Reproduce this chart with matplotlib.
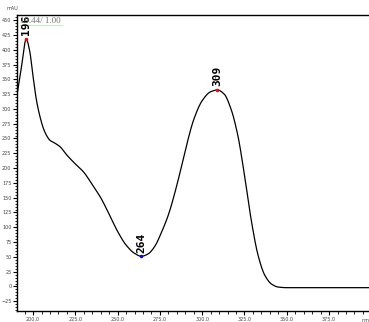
import matplotlib
matplotlib.use('Agg')
import matplotlib.pyplot as plt
from matplotlib.ticker import MultipleLocator, FuncFormatter
import numpy as np
from scipy.interpolate import PchipInterpolator

# 光谱数据 (nm, mAU)
wavelength = [190.5, 193, 196, 198, 200, 202, 204, 206, 208, 210, 213, 216, 220, 225, 230,
              235, 240, 245, 250, 255, 260, 264, 268, 272, 276, 280, 285, 290, 295,
              300, 305, 309, 313, 317, 321, 325, 329, 333, 337, 341, 345, 350, 360,
              380, 400]
absorb = [323, 368, 418, 398, 355, 315, 288, 268, 255, 247, 242, 236, 222, 207, 193,
          172, 150, 122, 93, 70, 56, 51, 55, 68, 92, 121, 171, 230, 282,
          314, 329, 332, 325, 300, 256, 188, 112, 53, 19, 4, -1, -2, -2,
          -2, -2]

peak_x = [196, 264, 309]
peak_y = [418, 51, 332]
peak_labels = ['196', '264', '309']
peak_colors = ['red', 'blue', 'red']

x_ticks = [200, 225, 250, 275, 300, 325, 350, 375]
y_ticks = [-25, 0, 25, 50, 75, 100, 125, 150, 175, 200, 225, 250, 275, 300,
           325, 350, 375, 400, 425, 450]

fig = plt.figure(figsize=(3.69, 3.22), dpi=100)
ax = fig.add_axes([0.046, 0.034, 0.954, 0.919])

# 平滑曲线
xs = np.linspace(wavelength[0], wavelength[-1], 1000)
ys = PchipInterpolator(wavelength, absorb)(xs)
ax.plot(xs, ys, color='black', lw=0.9)

for px, py, lab, c in zip(peak_x, peak_y, peak_labels, peak_colors):
    ax.plot(px, py, marker='o', ms=1.5, color=c, mec=c)
    ax.text(px, py + 6, lab, rotation=90, ha='center', va='bottom',
            fontsize=8, fontweight='bold', family='DejaVu Sans Mono')

ax.set_xlim(190.5, 398.6)
ax.set_ylim(-41.5, 458.4)

ax.set_xticks(x_ticks)
ax.set_yticks(y_ticks)
ax.xaxis.set_minor_locator(MultipleLocator(5))
ax.yaxis.set_minor_locator(MultipleLocator(5))
ax.xaxis.set_major_formatter(FuncFormatter(lambda v, p: f'{v:.1f}'))
ax.tick_params(axis='both', which='major', direction='out', length=3, width=0.8,
               labelsize=3.5, labelcolor='#444444', pad=1)
ax.tick_params(axis='both', which='minor', direction='out', length=1.8, width=0.6)

ax.spines['right'].set_visible(False)
for s in ['top', 'left', 'bottom']:
    ax.spines[s].set_linewidth(1.0)

fig.text(0.033, 0.965, 'mAU', fontsize=3.5, color='#444444', ha='center', va='bottom')
ax.text(1.0, -0.022, 'nm', transform=ax.transAxes, fontsize=3.5, color='#444444',
        ha='right', va='top')

ax.plot([0.008, 0.128], [0.967, 0.967], transform=ax.transAxes, color='#b8f0b8', lw=0.7)
ax.text(0.008, 0.994, '19.44/ 1.00', transform=ax.transAxes, fontsize=6.5,
        color='#777777', family='Liberation Serif', ha='left', va='top')

plt.savefig('out.png', dpi=100)
